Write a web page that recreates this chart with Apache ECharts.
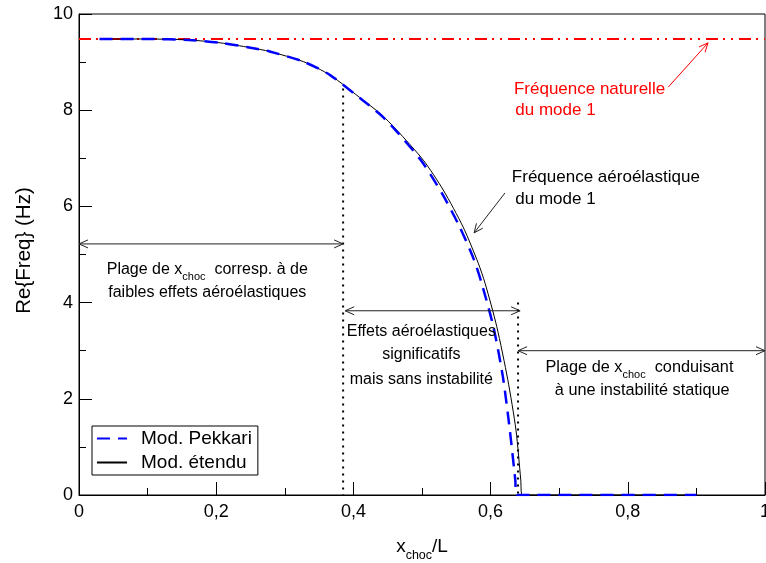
<!DOCTYPE html>
<html>
<head>
<meta charset="utf-8">
<script src="https://cdn.jsdelivr.net/npm/echarts@6/dist/echarts.min.js"></script>
<style>
  html, body { margin: 0; padding: 0; background: #fff; }
  #main { width: 766px; height: 563px; }
</style>
</head>
<body>
<div id="main"></div>
<script>
// courbes (x_choc/L, Re{Freq} en Hz)
const pekkariX = [0.03, 0.10, 0.16, 0.206, 0.25, 0.278, 0.327, 0.366, 0.414, 0.44, 0.463, 0.50, 0.53, 0.555, 0.575, 0.587, 0.604, 0.618, 0.628, 0.636, 0.638, 0.90]
const pekkariY = [9.48, 9.48, 9.46, 9.40, 9.30, 9.22, 9.01, 8.73, 8.20, 7.90, 7.56, 6.93, 6.25, 5.57, 4.92, 4.40, 3.50, 2.45, 1.35, 0.31, 0, 0]
const etenduX = [0.03, 0.10, 0.16, 0.206, 0.25, 0.278, 0.327, 0.366, 0.414, 0.44, 0.463, 0.502, 0.531, 0.560, 0.582, 0.592, 0.609, 0.625, 0.637, 0.644, 0.646, 0.90]
const etenduY = [9.48, 9.48, 9.46, 9.40, 9.30, 9.22, 9.01, 8.73, 8.21, 7.92, 7.59, 6.96, 6.34, 5.57, 4.82, 4.40, 3.50, 2.40, 1.35, 0.31, 0, 0]
const freqNaturelle = 9.48
const separations = [[0.385, 8.45], [0.640, 4.0]] // x, haut du pointillé

const legendNames = ['Mod. Pekkari', 'Mod. étendu']

// flèches : x1, y1, x2, y2, double
const blackArrows = [
  [0, 5.22, 0.385, 5.22, 1],
  [0.388, 3.83, 0.643, 3.83, 1],
  [0.640, 3.0, 1.0, 3.0, 1],
  [0.621, 6.28, 0.576, 5.45, 0]
]
const redArrows = [[0.859, 8.48, 0.917, 9.40, 0]]

// textes : x, y, texte, alignement, taille
const blackTexts = [
  [0.187, 4.68, 'Plage de x{s|choc}  corresp. à de', 'center', 16],
  [0.187, 4.20, 'faibles effets aéroélastiques', 'center', 16],
  [0.499, 3.39, 'Effets aéroélastiques', 'center', 16],
  [0.499, 2.91, 'significatifs', 'center', 16],
  [0.499, 2.39, 'mais sans instabilité', 'center', 16],
  [0.817, 2.66, 'Plage de x{s|choc}  conduisant', 'center', 16.3],
  [0.821, 2.18, 'à une instabilité statique', 'center', 16.3],
  [0.631, 6.61, 'Fréquence aéroélastique', 'left', 17],
  [0.636, 6.15, 'du mode 1', 'left', 17]
]
const redTexts = [
  [0.634, 8.44, 'Fréquence naturelle', 'left', 17],
  [0.636, 8.00, 'du mode 1', 'left', 17]
]

const font = 'Liberation Sans, Arial, sans-serif'
const pairs = (xs, ys) => xs.map((x, i) => [x, ys[i]])

function head (tip, from) {
  const dx = tip[0] - from[0], dy = tip[1] - from[1]
  const l = Math.hypot(dx, dy), ux = dx / l, uy = dy / l
  const L = 9, W = 4
  return [
    [tip[0] - ux * L - uy * W, tip[1] - uy * L + ux * W],
    tip,
    [tip[0] - ux * L + uy * W, tip[1] - uy * L - ux * W]
  ]
}

function arrowSeries (list, color) {
  return {
    type: 'custom',
    silent: true,
    clip: false,
    z: 5,
    data: list.map(a => [a[0], a[1], a[2], a[3]]),
    encode: { x: [0, 2], y: [1, 3] },
    renderItem: function (params, api) {
      const a = list[params.dataIndex]
      const p1 = api.coord([a[0], a[1]])
      const p2 = api.coord([a[2], a[3]])
      const st = { stroke: color, lineWidth: 1, fill: null }
      const children = [
        { type: 'line', shape: { x1: p1[0], y1: p1[1], x2: p2[0], y2: p2[1] }, style: st },
        { type: 'polyline', shape: { points: head(p2, p1) }, style: st }
      ]
      if (a[4]) children.push({ type: 'polyline', shape: { points: head(p1, p2) }, style: st })
      return { type: 'group', children: children }
    }
  }
}

function textSeries (list, color) {
  return {
    type: 'custom',
    silent: true,
    clip: false,
    z: 6,
    data: list.map(t => [t[0], t[1]]),
    renderItem: function (params, api) {
      const t = list[params.dataIndex]
      const p = api.coord([t[0], t[1]])
      return {
        type: 'text',
        x: p[0],
        y: p[1],
        style: {
          text: t[2],
          fill: color,
          fontSize: t[4],
          fontFamily: font,
          lineHeight: 26,
          align: t[3],
          verticalAlign: 'middle',
          rich: { s: { fontSize: 11, lineHeight: 11, fontFamily: font, fill: color, verticalAlign: 'bottom' } }
        }
      }
    }
  }
}

const myChart = echarts.init(document.getElementById('main'))
const option = {
  backgroundColor: '#fff',
  animation: false,
  grid: {
    left: 79, right: 1, top: 14, bottom: 68,
    outerBoundsMode: 'none',
    containLabel: false,
    show: true, borderColor: '#000', borderWidth: 1
  },
  legend: {
    data: legendNames,
    orient: 'vertical',
    left: 92,
    top: 426,
    padding: [3, 6, 3, 4],
    itemWidth: 30,
    itemHeight: 14,
    itemGap: 5,
    borderColor: '#000',
    borderWidth: 1,
    itemStyle: { color: 'transparent', borderColor: 'transparent', borderWidth: 0 },
    textStyle: { fontSize: 19, fontFamily: font, color: '#000', padding: [0, 0, 0, 9] }
  },
  xAxis: {
    type: 'value',
    min: 0,
    max: 1,
    interval: 0.2,
    name: 'x{s|choc}/L',
    nameLocation: 'middle',
    nameGap: 37,
    nameTextStyle: {
      fontSize: 19, fontFamily: font, color: '#000', lineHeight: 30,
      rich: { s: { fontSize: 12.5, lineHeight: 12, fontFamily: font, color: '#000', verticalAlign: 'bottom' } }
    },
    splitLine: { show: false },
    axisLine: { lineStyle: { color: '#000' } },
    axisTick: { inside: true, length: 13, lineStyle: { color: '#000' } },
    minorTick: { show: true, splitNumber: 2, length: 7, lineStyle: { color: '#000' } },
    axisLabel: {
      fontSize: 18, fontFamily: font, color: '#000', margin: 8,
      formatter: v => (v === 0 ? '0' : v === 1 ? '1' : v.toFixed(1).replace('.', ','))
    }
  },
  yAxis: {
    type: 'value',
    min: 0,
    max: 10,
    interval: 2,
    name: 'Re{Freq} (Hz)',
    nameLocation: 'middle',
    nameGap: 44,
    nameTextStyle: { fontSize: 20.5, fontFamily: font, color: '#000', padding: [0, 0, 0, 8] },
    splitLine: { show: false },
    axisLine: { lineStyle: { color: '#000' } },
    axisTick: { inside: true, length: 13, lineStyle: { color: '#000' } },
    minorTick: { show: true, splitNumber: 2, length: 7, lineStyle: { color: '#000' } },
    axisLabel: { fontSize: 18, fontFamily: font, color: '#000', margin: 6 }
  },
  series: [
    {
      name: 'naturelle',
      type: 'line',
      symbol: 'none',
      data: [[0, freqNaturelle], [1, freqNaturelle]],
      lineStyle: { color: '#ff0000', width: 2, type: [12, 5, 2, 6, 2, 6] },
      z: 2
    },
    {
      name: legendNames[1],
      type: 'line',
      symbol: 'none',
      smooth: 0.25,
      color: '#000',
      data: pairs(etenduX, etenduY),
      lineStyle: { color: '#000', width: 1 },
      z: 3
    },
    {
      name: legendNames[0],
      type: 'line',
      symbol: 'none',
      smooth: 0.25,
      color: '#0000ff',
      data: pairs(pekkariX, pekkariY),
      lineStyle: { color: '#0000ff', width: 2.5, type: [13, 8] },
      z: 4
    },
    ...separations.map((s, i) => ({
      name: 'sep' + i,
      type: 'line',
      symbol: 'none',
      data: [[s[0], s[1]], [s[0], 0]],
      lineStyle: { color: '#000', width: 2, type: [2, 5] },
      z: 3
    })),
    arrowSeries(blackArrows, '#222'),
    arrowSeries(redArrows, '#ff0000'),
    textSeries(blackTexts, '#000'),
    textSeries(redTexts, '#ff0000')
  ]
}
myChart.setOption(option)
</script>
</body>
</html>
